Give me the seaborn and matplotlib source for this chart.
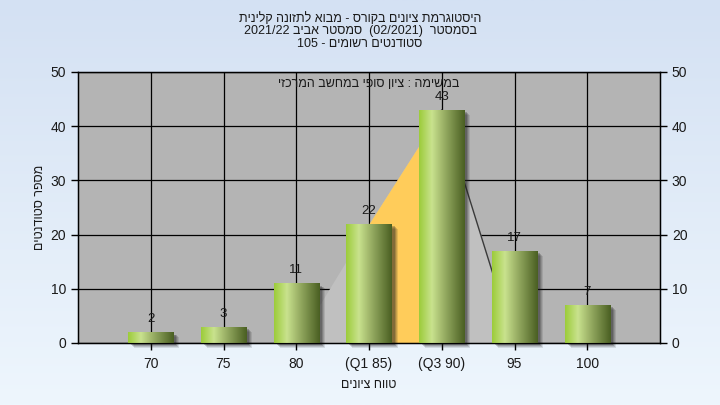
import numpy as np
import pandas as pd
import matplotlib
matplotlib.use('Agg')
import matplotlib.pyplot as plt
import matplotlib.transforms as mtransforms
import seaborn as sns
from matplotlib.colors import LinearSegmentedColormap
from matplotlib.patches import Rectangle

# data
grades = ['70', '75', '80', '(Q1 85)', '(Q3 90)', '95', '100']
counts = [2, 3, 11, 22, 43, 17, 7]
# background "curve" area (grade label -> height)
curve_grades = ['80', '(Q1 85)', '(Q3 90)', '95']
curve_vals = [0, 22, 43, 0]
q_grades = ['(Q1 85)', '(Q3 90)']

title_lines = ['היסטוגרמת ציונים בקורס - מבוא לתזונה קלינית',
               'בסמסטר  (02/2021)  סמסטר אביב 2021/22',
               'סטודנטים רשומים - 105']
note = 'במשימה : ציון סופי במחשב המרכזי'
xlab = 'טווח ציונים'
ylab = 'מספר סטודנטים'


def rtl(s):
    # matplotlib has no bidi, so put hebrew in visual order by hand
    def heb(t):
        return any('\u0590' <= c <= '\u05ff' for c in t)
    toks = s.split(' ')
    return ' '.join(t[::-1] if heb(t) else t for t in reversed(toks))


plt.rcParams['font.family'] = ['Liberation Sans', 'DejaVu Sans']
txt = '#1a1a1a'

fig = plt.figure(figsize=(7.2, 4.05), dpi=100)

# light blue gradient background
bg = fig.add_axes([0, 0, 1, 1], zorder=-10)
bg_cmap = LinearSegmentedColormap.from_list('bg', ['#d4e1f3', '#eef6fd'])
bg.imshow(np.linspace(0, 1, 256)[:, None], aspect='auto', cmap=bg_cmap, extent=[0, 1, 0, 1])
bg.axis('off')

ax = fig.add_axes([78 / 720, 1 - 343 / 405, 582 / 720, 271 / 405])
ax.set_facecolor('#b4b4b4')

df = pd.DataFrame({'grade': grades, 'n': counts})
sns.barplot(data=df, x='grade', y='n', order=grades, width=0.62, color='#8fb040',
            ax=ax, zorder=3, saturation=1)

ax.set_xlim(-1, len(grades))
ax.set_ylim(0, 50)
ax.set_yticks(range(0, 51, 10))

# area behind the bars
cx = [grades.index(g) for g in curve_grades]
ax.fill_between(cx, curve_vals, color='#c0c0c0', lw=0, zorder=2)
qx = [grades.index(g) for g in q_grades]
qv = [curve_vals[curve_grades.index(g)] for g in q_grades]
ax.fill_between(qx, qv, color='#ffcc5a', lw=0, zorder=2)
ax.plot(cx[2:], curve_vals[2:], color='#3a3a3a', lw=1, zorder=2)

# grid
ax.grid(True, color='black', lw=0.9, zorder=1)
ax.set_axisbelow(True)

# cylinder-like gradient on the bars
bar_cmap = LinearSegmentedColormap.from_list(
    'bar', [(0, '#9ccc3a'), (0.28, '#c9e28e'), (0.55, '#98ae64'), (1, '#4a5f22')])
grad = np.linspace(0, 1, 200)[None, :]
for i, p in enumerate(ax.patches):
    x0, w, h = p.get_x(), p.get_width(), p.get_height()
    for k, (d, a) in enumerate([(6, 0.12), (5, 0.15), (4, 0.2), (3, 0.25)]):
        sh_tr = mtransforms.offset_copy(ax.transData, fig=fig, x=d, y=-d * 0.8, units='dots')
        ax.add_patch(Rectangle((x0, 0), w, h, transform=sh_tr, facecolor='#202020',
                               alpha=a, lw=0, zorder=2.5, clip_on=False))
    im = ax.imshow(grad, aspect='auto', cmap=bar_cmap, extent=[x0, x0 + w, 0, h], zorder=3.1)
    im.set_clip_path(p)
    p.set_edgecolor('none')

ax.set_xlim(-1, len(grades))
ax.set_ylim(0, 50)
ax.set_aspect('auto')

ax.bar_label(ax.containers[0], padding=5, fontsize=9.5, color=txt)

ax.set_xlabel(rtl(xlab), fontsize=9, color=txt, labelpad=6)
ax.set_ylabel(rtl(ylab), fontsize=9, color=txt, labelpad=3)
ax.tick_params(axis='both', colors='black', labelcolor=txt, labelsize=10, length=5, width=1)
ax.tick_params(axis='x', pad=5)
for s in ax.spines.values():
    s.set_color('black')
    s.set_linewidth(1.0)

ax2 = ax.twinx()
ax2.set_ylim(0, 50)
ax2.set_yticks(range(0, 51, 10))
ax2.tick_params(axis='y', colors='black', labelcolor=txt, labelsize=10, length=5, width=1)

ax.text(0.5, 0.955, rtl(note), transform=ax.transAxes, ha='center', va='center',
        fontsize=9, color=txt, zorder=5)

fig.text(0.5, 1 - 31 / 405, '\n'.join(rtl(l) for l in title_lines), ha='center', va='center',
         fontsize=9, color=txt, linespacing=1.1)

fig.savefig('out.png', dpi=100)
